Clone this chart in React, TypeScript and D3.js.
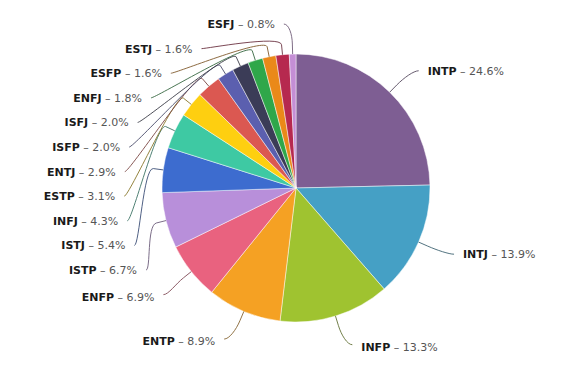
import * as d3 from 'd3';

const names = ['INTP', 'INTJ', 'INFP', 'ENTP', 'ENFP', 'ISTP', 'ISTJ', 'INFJ', 'ESTP', 'ENTJ', 'ISFP', 'ISFJ', 'ENFJ', 'ESFP', 'ESTJ', 'ESFJ'];
const shares = [24.6, 13.9, 13.3, 8.9, 6.9, 6.7, 5.4, 4.3, 3.1, 2.9, 2.0, 2.0, 1.8, 1.6, 1.6, 0.8];
const colors = ['#7e5e93', '#45a0c5', '#9fc330', '#f5a123', '#e9627f', '#b88fda', '#3d6ccf', '#3ec9a3', '#fecf10', '#db5851', '#5b5faf', '#3b3c57', '#2fa74a', '#ea8919', '#b6294f', '#c48ed5'];

const width = 567;
const height = 366;
const cx = 296;
const cy = 188;
const radius = 134;
const labelDistance = 30;
const lineGap = 24.6;
const breakOffset = 10;

export default function App() {
  const arcs = d3.pie<number>().sort(null).value(d => d)(shares);
  const arc = d3.arc<d3.PieArcDatum<number>>().innerRadius(0).outerRadius(radius);
  const R = radius + labelDistance;

  // natural label positions, then push overlapping ones down (per side)
  const labels = arcs.map((a, i) => {
    const mid = (a.startAngle + a.endAngle) / 2;
    return { i, mid, left: mid > Math.PI, y: -R * Math.cos(mid) };
  });
  [true, false].forEach(side => {
    let prev = -Infinity;
    labels
      .filter(d => d.left === side)
      .sort((a, b) => a.y - b.y)
      .forEach(d => {
        d.y = Math.max(d.y, prev + lineGap);
        prev = d.y;
      });
  });

  return (
    <svg
      width={width}
      height={height}
      style={{ position: 'absolute', left: 0, top: 0, background: '#fff' }}
      fontFamily="'DejaVu Sans', Verdana, sans-serif"
      fontSize={11}
    >
      <g transform={`translate(${cx},${cy})`}>
        {arcs.map((a, i) => (
          <path key={names[i]} d={arc(a)!} fill={colors[i]} stroke="#fff" strokeWidth={0.6} strokeOpacity={0.8} />
        ))}
        {labels.map(d => {
          const dir = d.left ? -1 : 1;
          const x0 = Math.sqrt(Math.max(0, R * R - d.y * d.y));
          const sx = Math.sin(d.mid);
          const sy = -Math.cos(d.mid);
          const endX = dir * (x0 + 8);
          const p = d3.path();
          p.moveTo(endX, d.y);
          p.bezierCurveTo(
            endX - dir * 5, d.y,
            sx * (radius + 2 * breakOffset), sy * (radius + 2 * breakOffset),
            sx * (radius + breakOffset), sy * (radius + breakOffset)
          );
          p.lineTo(sx * radius, sy * radius);
          const stroke = d3.interpolateRgb(colors[d.i], '#3a3a3a')(0.6);
          return (
            <g key={names[d.i]}>
              <path d={p.toString()} fill="none" stroke={stroke} strokeWidth={0.9} />
              <text
                x={dir * (x0 + 17)}
                y={d.y + (d.y > 100 ? 2 : 0)}
                dy="0.35em"
                textAnchor={d.left ? 'end' : 'start'}
              >
                <tspan fontWeight="bold" fill="#1a1a1a">{names[d.i]}</tspan>
                <tspan fill="#555">{` \u2013 ${shares[d.i].toFixed(1)}%`}</tspan>
              </text>
            </g>
          );
        })}
      </g>
    </svg>
  );
}
